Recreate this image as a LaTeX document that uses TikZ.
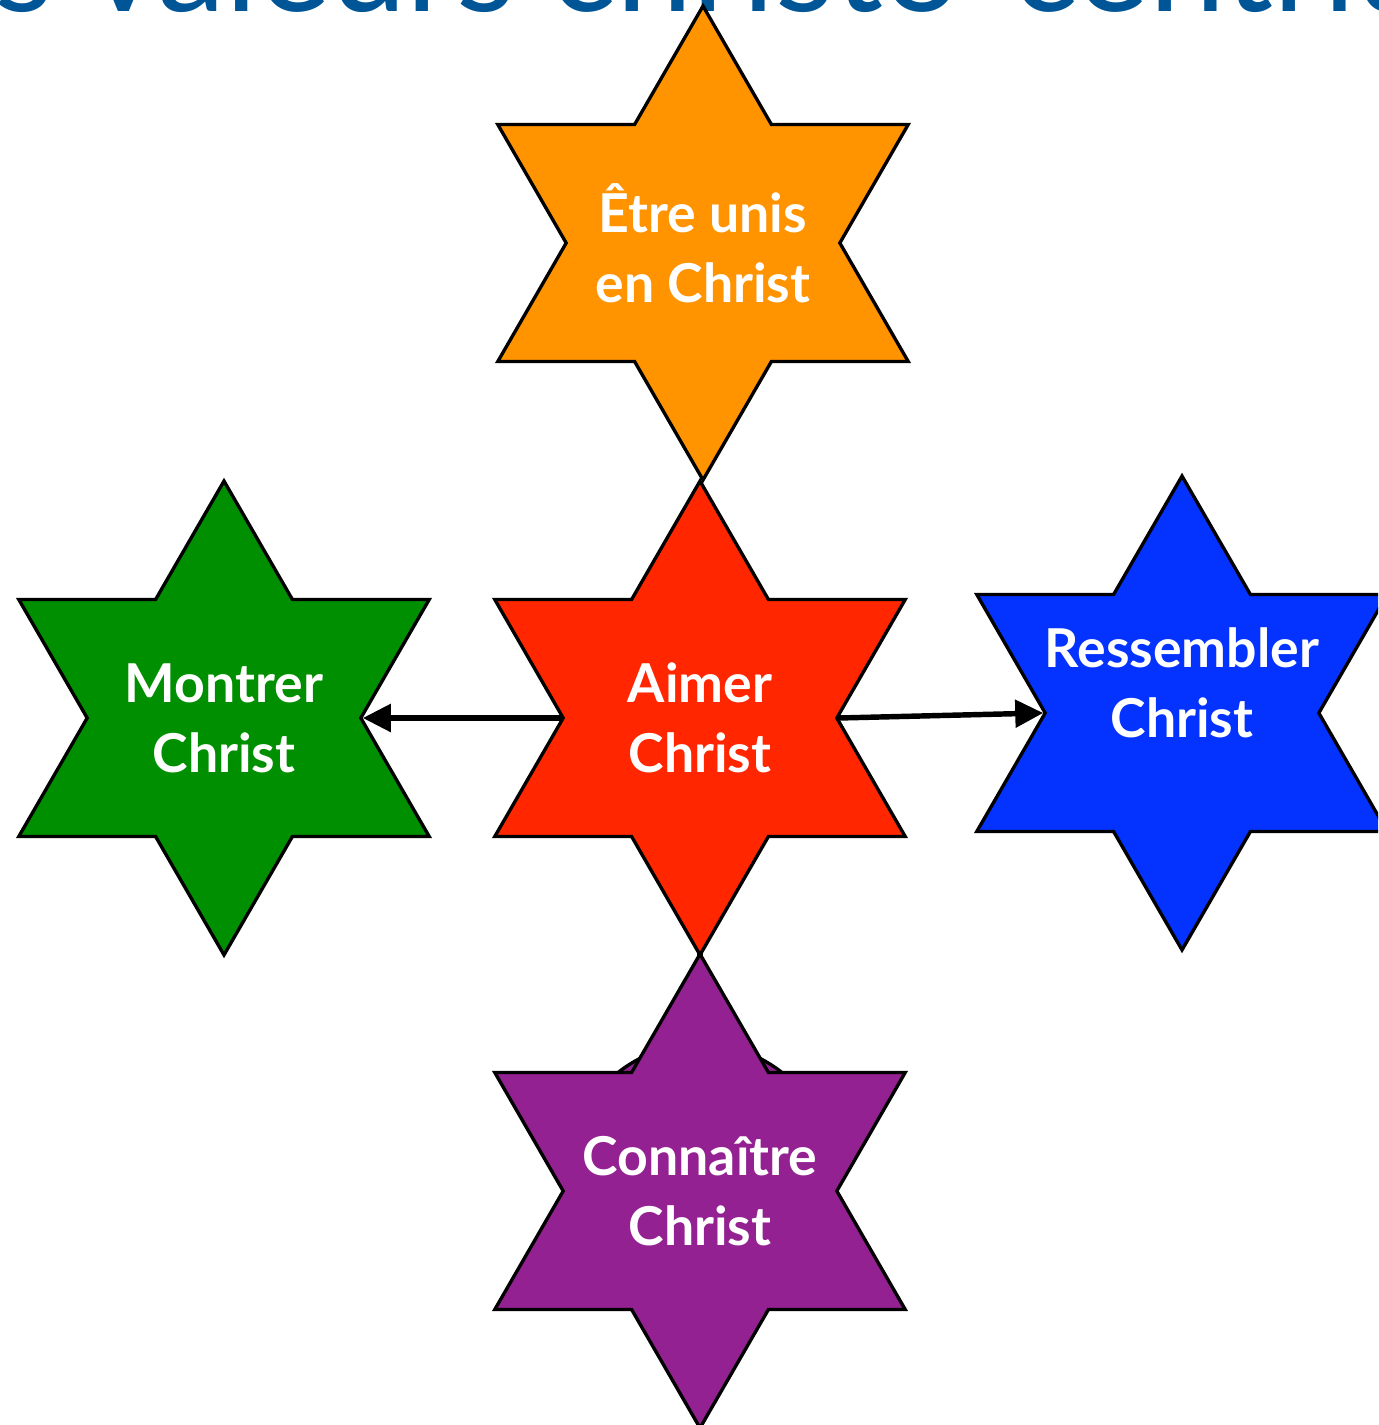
\documentclass[tikz,border=0pt]{standalone}
\usepackage{fontspec}
\setmainfont{Lato}
\usetikzlibrary{shapes.geometric,arrows.meta}

\definecolor{titleblue}{RGB}{0,85,150}
\definecolor{cOrange}{RGB}{255,147,0}
\definecolor{cRed}{RGB}{255,38,0}
\definecolor{cGreen}{RGB}{0,143,0}
\definecolor{cBlue}{RGB}{4,51,255}
\definecolor{cPurple}{RGB}{148,33,146}

\tikzset{
  valeur/.style={star, star points=6, star point ratio=1.732,
    minimum size=9.48cm, inner sep=0pt, draw=black, line width=1.9pt},
  etiquette/.style={text=white, align=center,
    font=\bfseries\fontsize{30.5}{39.7}\selectfont},
  fleche/.style={line width=3.1pt, -{Triangle[length=0.56cm,width=0.54cm]}}
}

\begin{document}
\begin{tikzpicture}[x=0.02cm, y=-0.02cm]
    \useasboundingbox (0,0) rectangle (1378,1425);
    \clip (0,0) rectangle (1378,1425);

    % title, mostly cut off
    \node [anchor=base west, inner sep=0pt, text=titleblue,
      font=\fontsize{78}{92}\selectfont] (titre) at (88,12)
      {\llap{Les }valeurs christo-centriques};

    \draw [fill=cPurple, line width=1.9pt] (700,1176) circle [radius=132];

    \node [valeur, fill=cOrange] (unis) at (703,243) {};
    \node [etiquette] (unis-txt) at (unis) {Être unis\\en Christ};

    \node [valeur, fill=cRed] (aimer) at (700,718) {};
    \node [etiquette] (aimer-txt) at (aimer) {Aimer\\Christ};

    \node [valeur, fill=cGreen] (montrer) at (224,718) {};
    \node [etiquette] (montrer-txt) at (montrer) {Montrer\\Christ};

    \node [valeur, fill=cBlue] (ressembler) at (1182,713) {};
    \node [etiquette, yshift=0.6cm] (ressembler-txt) at (ressembler) {Ressembler\\Christ};

    \node [valeur, fill=cPurple] (connaitre) at (700,1191) {};
    \node [etiquette] (connaitre-txt) at (connaitre) {Connaître\\Christ};

    \draw [fleche] (aimer.west) -- (montrer.east);
    \draw [fleche] (aimer.east) -- (ressembler.west);
    \draw [line width=3.1pt] (aimer.south) -- (connaitre.north);
  \end{tikzpicture}
\end{document}
